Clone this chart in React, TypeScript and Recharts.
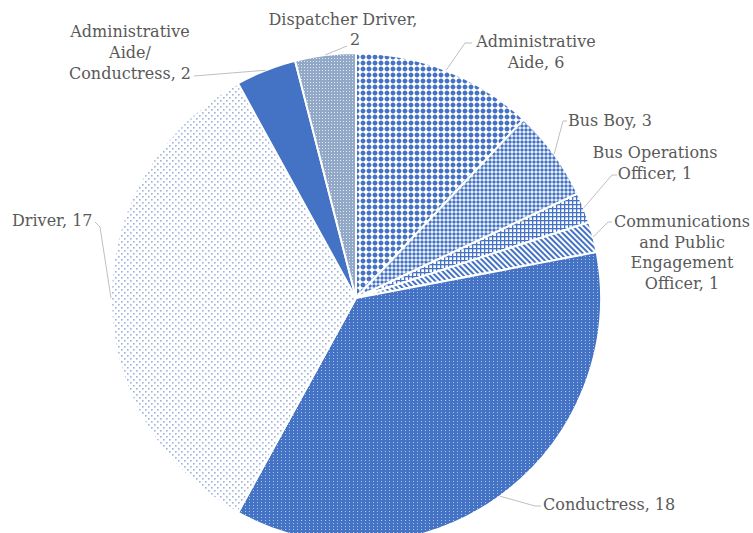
import { PieChart, Pie, Cell } from "recharts"

const roles = [
  "Administrative Aide",
  "Bus Boy",
  "Bus Operations Officer",
  "Communications and Public Engagement Officer",
  "Conductress",
  "Driver",
  "Administrative Aide/Conductress",
  "Dispatcher Driver",
]
const counts = [6, 3, 1, 1, 18, 17, 2, 2]

// label text as it wraps in the original
const labelLines = [
  ["Administrative", "Aide, 6"],
  ["Bus Boy, 3"],
  ["Bus Operations", "Officer, 1"],
  ["Communications", "and Public", "Engagement", "Officer, 1"],
  ["Conductress, 18"],
  ["Driver, 17"],
  ["Administrative", "Aide/", "Conductress, 2"],
  ["Dispatcher Driver,", "2"],
]

const data = roles.map((name, i) => ({ name, value: counts[i] }))

// where each label sits and where its leader line bends
const labelLayout = [
  { xs: [536, 536], ys: [47, 68], anchor: "middle", path: [[465, 43], [472, 43]] },
  { xs: [568], ys: [126], anchor: "start", path: [[563, 121], [567, 121]] },
  { xs: [655, 655], ys: [158, 179], anchor: "middle", path: [[612, 175], [617, 175]] },
  { xs: [682, 682, 682, 682], ys: [227, 248, 268, 289], anchor: "middle", path: [[608, 222], [612, 222]] },
  { xs: [543], ys: [510], anchor: "start", path: [[535, 506], [541, 506]] },
  { xs: [12], ys: [226], anchor: "start", path: [[100, 227], [95, 222]] },
  { xs: [130, 130, 130], ys: [37, 58, 79], anchor: "middle", path: [[194, 76]] },
  { xs: [343, 355], ys: [25, 45], anchor: "middle", path: [[347, 46]] },
]

const RAD = Math.PI / 180

function renderLabel(props: any) {
  const { cx, cy, midAngle, outerRadius, index } = props
  const lay = labelLayout[index]
  const sx = cx + outerRadius * Math.cos(-midAngle * RAD)
  const sy = cy + outerRadius * Math.sin(-midAngle * RAD)
  const pts = [[sx, sy], ...lay.path].map((p) => p.join(",")).join(" ")
  return (
    <g key={`lbl-${index}`}>
      <polyline points={pts} fill="none" stroke="#bfbfbf" strokeWidth={1} />
      {labelLines[index].map((t, j) => (
        <text
          key={j}
          x={lay.xs[j]}
          y={lay.ys[j]}
          textAnchor={lay.anchor as any}
          fill="#595959"
          fontSize={16}
          fontFamily="DejaVu Serif"
        >
          {t}
        </text>
      ))}
    </g>
  )
}

export default function App() {
  return (
    <div style={{ position: "fixed", left: 0, top: 0, background: "#fff" }}>
      <PieChart width={753} height={533} margin={{ top: 0, right: 0, bottom: 0, left: 0 }}>
        <defs>
          <pattern id="p0" width="6" height="6" patternUnits="userSpaceOnUse">
            <rect width="6" height="6" fill="#fff" />
            <polygon points="3,0.3 5.7,3 3,5.7 0.3,3" fill="#4472c4" />
            <circle cx="3" cy="3" r="2.3" fill="#4472c4" />
          </pattern>
          <pattern id="p1" width="4" height="4" patternUnits="userSpaceOnUse">
            <rect width="4" height="4" fill="#fff" />
            <circle cx="2" cy="2" r="1.75" fill="#4472c4" />
          </pattern>
          <pattern id="p2" width="4" height="4" patternUnits="userSpaceOnUse">
            <rect width="4" height="4" fill="#fff" />
            <rect x="0" y="0" width="4" height="1.3" fill="#4472c4" />
            <rect x="0" y="0" width="1.3" height="4" fill="#4472c4" />
          </pattern>
          <pattern id="p3" width="4" height="4" patternUnits="userSpaceOnUse" patternTransform="rotate(-45)">
            <rect width="4" height="4" fill="#fff" />
            <rect x="0" y="0" width="2" height="4" fill="#4472c4" />
          </pattern>
          <pattern id="p4" width="4" height="3" patternUnits="userSpaceOnUse">
            <rect width="4" height="3" fill="#4472c4" />
            <rect x="1" y="1" width="1" height="1" fill="#b4c6e7" />
          </pattern>
          <pattern id="p5" width="6" height="6" patternUnits="userSpaceOnUse">
            <rect width="6" height="6" fill="#fff" />
            <rect x="1" y="1" width="1.6" height="1.6" fill="#9db2d8" />
            <rect x="4" y="4" width="1.6" height="1.6" fill="#9db2d8" />
          </pattern>
          <pattern id="p7" width="3" height="3" patternUnits="userSpaceOnUse">
            <rect width="3" height="3" fill="#91a8c6" />
            <rect x="1" y="1" width="1" height="1" fill="#e3e9f2" />
          </pattern>
        </defs>
        <Pie
          data={data}
          dataKey="value"
          nameKey="name"
          cx={356}
          cy={298}
          outerRadius={245}
          startAngle={90}
          endAngle={-270}
          stroke="#fff"
          strokeWidth={2}
          label={renderLabel}
          labelLine={false}
          isAnimationActive={false}
        >
          {data.map((d, i) => (
            <Cell key={d.name} fill={i === 6 ? "#4472c4" : `url(#p${i})`} />
          ))}
        </Pie>
      </PieChart>
    </div>
  )
}
